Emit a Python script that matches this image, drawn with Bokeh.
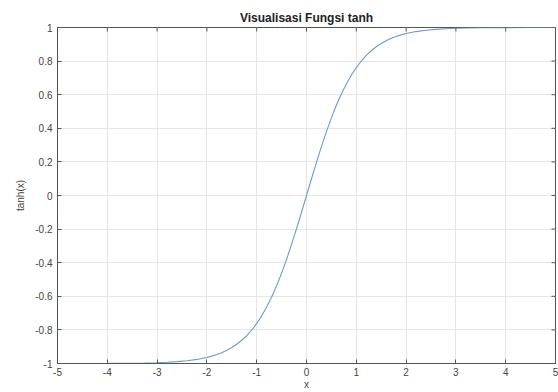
import math
from bokeh.plotting import figure
from bokeh.models import FixedTicker, Range1d
from bokeh.embed import file_html
from bokeh.resources import INLINE

# values
x_vals = [-5.0, -4.5, -4.0, -3.5, -3.25, -3.0, -2.8, -2.6, -2.4, -2.2, -2.0, -1.9, -1.8,
          -1.7, -1.6, -1.5, -1.4, -1.3, -1.2, -1.1, -1.0, -0.9, -0.8, -0.7, -0.6, -0.5,
          -0.4, -0.3, -0.2, -0.1, 0.0, 0.1, 0.2, 0.3, 0.4, 0.5, 0.6, 0.7, 0.8, 0.9, 1.0,
          1.1, 1.2, 1.3, 1.4, 1.5, 1.6, 1.7, 1.8, 1.9, 2.0, 2.2, 2.4, 2.6, 2.8, 3.0,
          3.25, 3.5, 4.0, 4.5, 5.0]
y_vals = [-0.9999, -0.9998, -0.9993, -0.9982, -0.997, -0.9951, -0.9926, -0.989, -0.9837,
          -0.9757, -0.964, -0.9562, -0.9468, -0.9354, -0.9217, -0.9051, -0.8854, -0.8617,
          -0.8337, -0.8005, -0.7616, -0.7163, -0.664, -0.6044, -0.537, -0.4621, -0.38,
          -0.2913, -0.1974, -0.0997, 0.0, 0.0997, 0.1974, 0.2913, 0.38, 0.4621, 0.537,
          0.6044, 0.664, 0.7163, 0.7616, 0.8005, 0.8337, 0.8617, 0.8854, 0.9051, 0.9217,
          0.9354, 0.9468, 0.9562, 0.964, 0.9757, 0.9837, 0.989, 0.9926, 0.9951, 0.997,
          0.9982, 0.9993, 0.9998, 0.9999]

x_ticks = [-5, -4, -3, -2, -1, 0, 1, 2, 3, 4, 5]
x_tick_labels = ["-5", "-4", "-3", "-2", "-1", "0", "1", "2", "3", "4", "5"]
y_ticks = [-1, -0.8, -0.6, -0.4, -0.2, 0, 0.2, 0.4, 0.6, 0.8, 1]
y_tick_labels = ["-1", "-0.8", "-0.6", "-0.4", "-0.2", "0", "0.2", "0.4", "0.6", "0.8", "1"]

title_text = "Visualisasi Fungsi tanh"
x_label = "x"
y_label = "tanh(x)"

FONT = "Liberation Sans"
TXT = "#444444"
AX = "#555555"

x_lo, x_hi = x_ticks[0], x_ticks[-1]
y_lo, y_hi = y_ticks[0], y_ticks[-1]

p = figure(width=558, height=392, output_backend="svg", toolbar_location=None,
           x_range=Range1d(x_lo, x_hi), y_range=Range1d(y_lo, y_hi),
           min_border_left=57, min_border_right=3, min_border_top=27, min_border_bottom=27)

p.title.text = title_text
p.title.align = "center"
p.title.text_font = FONT
p.title.text_font_size = "12px"
p.title.text_font_style = "bold"
p.title.text_color = "#222222"
p.title.offset = 0
p.title.standoff = 5

p.line(x_vals, y_vals, line_color="#6d9cc4", line_width=1.1)

def style_axis(ax, ticks, labels):
    ax.ticker = FixedTicker(ticks=ticks)
    ax.major_label_overrides = {t: l for t, l in zip(ticks, labels)}
    ax.major_tick_in = 4
    ax.major_tick_out = 0
    ax.minor_tick_in = 0
    ax.minor_tick_out = 0
    ax.axis_line_color = AX
    ax.major_tick_line_color = AX
    ax.major_label_text_font = FONT
    ax.major_label_text_font_size = "10px"
    ax.major_label_text_color = TXT
    ax.major_label_standoff = 5
    ax.axis_label_text_font = FONT
    ax.axis_label_text_font_size = "10px"
    ax.axis_label_text_font_style = "normal"
    ax.axis_label_text_color = TXT

style_axis(p.xaxis[0], x_ticks, x_tick_labels)
style_axis(p.yaxis[0], y_ticks, y_tick_labels)
p.xaxis.axis_label = x_label
p.yaxis.axis_label = y_label
p.xaxis.axis_label_standoff = 0
p.xaxis.major_label_standoff = 4
p.yaxis.axis_label_standoff = 6
p.yaxis.major_label_orientation = "horizontal"

# inward ticks on the top and right edges of the box (clipped to the frame)
p.scatter(x_ticks, [y_hi] * len(x_ticks), marker="dash", angle=math.pi / 2,
          size=8, line_color=AX, line_width=1)
p.scatter([x_hi] * len(y_ticks), y_ticks, marker="dash",
          size=8, line_color=AX, line_width=1)

p.xgrid.ticker = FixedTicker(ticks=x_ticks)
p.ygrid.ticker = FixedTicker(ticks=y_ticks)
p.grid.grid_line_color = "#e6e6e6"
p.grid.grid_line_width = 1
p.outline_line_color = AX
p.background_fill_color = "white"
p.border_fill_color = "white"

open("out.html", "w").write(file_html(p, INLINE))
